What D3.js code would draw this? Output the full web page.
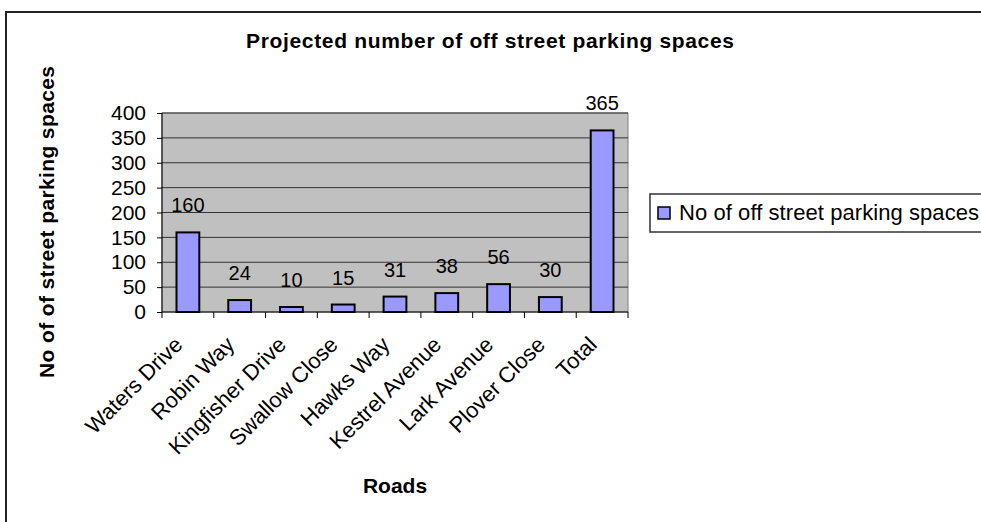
<!DOCTYPE html>
<html>
<head>
	<meta charset="utf-8">
	<script src="https://cdnjs.cloudflare.com/ajax/libs/d3/7.8.5/d3.min.js"></script>
	<style>
		body { margin: 0; background: #fff; font-family: "Liberation Sans", Arial, sans-serif; }
		.y-axis path, .x-axis path { display: none; }
		.y-axis line, .x-axis line { stroke: #000; }
		.y-axis text { font-size: 21px; fill: #000; }
		.x-axis text { font-size: 22px; fill: #000; }
	</style>
</head>
<body>
	<svg width="981" height="522"></svg>
	<script>
	// chart data
	var roads = ["Waters Drive", "Robin Way", "Kingfisher Drive", "Swallow Close", "Hawks Way",
		"Kestrel Avenue", "Lark Avenue", "Plover Close", "Total"];
	var spaces = [160, 24, 10, 15, 31, 38, 56, 30, 365];
	var yTicks = [0, 50, 100, 150, 200, 250, 300, 350, 400];
	var seriesName = "No of off street parking spaces";

	var data = roads.map(function(r, i) { return {road: r, value: spaces[i]}; });

	var svg = d3.select("svg"),
		margin = {top: 113, right: 353, bottom: 210, left: 162},
		width = svg.attr("width") - margin.left - margin.right,
		height = svg.attr("height") - margin.top - margin.bottom;

	// outer chart border (runs off the right and bottom edge)
	svg.append("rect")
		.attr("x", 6).attr("y", 12)
		.attr("width", 1000).attr("height", 530)
		.style("fill", "none").style("stroke", "#222").style("stroke-width", 2);

	var g = svg.append("g").attr("transform", "translate(" + margin.left + "," + margin.top + ")");

	var x = d3.scaleBand().domain(roads).range([0, width]).padding(0),
		y = d3.scaleLinear().domain([0, 400]).range([height, 0]);

	// plot area
	g.append("rect")
		.attr("width", width).attr("height", height)
		.style("fill", "#c0c0c0").style("stroke", "#808080");

	// gridlines
	g.selectAll(".grid")
		.data(yTicks.slice(1))
		.enter().append("line")
		.attr("x1", 0).attr("x2", width)
		.attr("y1", function(d) { return y(d); })
		.attr("y2", function(d) { return y(d); })
		.style("stroke", "#333").style("stroke-width", 1);

	// y axis
	g.append("g")
		.attr("class", "y-axis")
		.call(d3.axisLeft(y).tickValues(yTicks).tickSize(5).tickPadding(11));
	g.append("line")
		.attr("y1", 0).attr("y2", height)
		.style("stroke", "#000");

	// x axis with ticks between categories
	var xa = g.append("g")
		.attr("class", "x-axis")
		.attr("transform", "translate(0," + height + ")");
	xa.append("line").attr("x1", 0).attr("x2", width).style("stroke", "#000");
	xa.selectAll(".tk")
		.data(d3.range(roads.length + 1))
		.enter().append("line")
		.attr("x1", function(i) { return i * x.step(); })
		.attr("x2", function(i) { return i * x.step(); })
		.attr("y1", 0).attr("y2", 6);
	xa.selectAll(".lbl")
		.data(roads)
		.enter().append("text")
		.attr("text-anchor", "end")
		.attr("transform", function(d) {
			return "translate(" + (x(d) + x.bandwidth() / 2 - 4) + ",34) rotate(-45)";
		})
		.text(function(d) { return d; });

	// bars
	var bw = x.bandwidth() * 0.44;
	g.selectAll(".bar")
		.data(data)
		.enter().append("rect")
		.attr("class", "bar")
		.attr("x", function(d) { return x(d.road) + (x.bandwidth() - bw) / 2; })
		.attr("y", function(d) { return y(d.value); })
		.attr("width", bw)
		.attr("height", function(d) { return height - y(d.value); })
		.style("fill", "#9999ff").style("stroke", "#000").style("stroke-width", 2);

	// value labels
	g.selectAll(".val")
		.data(data)
		.enter().append("text")
		.attr("text-anchor", "middle")
		.attr("x", function(d) { return x(d.road) + x.bandwidth() / 2; })
		.attr("y", function(d) { return y(d.value) - 20; })
		.style("font-size", "20px")
		.text(function(d) { return d.value; });

	// titles
	svg.append("text")
		.attr("x", 490).attr("y", 48)
		.attr("text-anchor", "middle")
		.attr("textLength", 488).attr("lengthAdjust", "spacing")
		.style("font-size", "21px").style("font-weight", "bold")
		.text("Projected number of off street parking spaces");

	svg.append("text")
		.attr("transform", "translate(54,222) rotate(-90)")
		.attr("text-anchor", "middle")
		.attr("textLength", 312).attr("lengthAdjust", "spacing")
		.style("font-size", "21px").style("font-weight", "bold")
		.text("No of of street parking spaces");

	svg.append("text")
		.attr("x", margin.left + width / 2).attr("y", 493)
		.attr("text-anchor", "middle")
		.style("font-size", "21px").style("font-weight", "bold")
		.text("Roads");

	// legend
	var lg = svg.append("g").attr("transform", "translate(650,194)");
	lg.append("rect")
		.attr("width", 340).attr("height", 38)
		.style("fill", "#fff").style("stroke", "#333").style("stroke-width", 1.5);
	lg.append("rect")
		.attr("x", 8).attr("y", 13).attr("width", 12).attr("height", 12)
		.style("fill", "#9999ff").style("stroke", "#000").style("stroke-width", 1.5);
	lg.append("text")
		.attr("x", 29).attr("y", 26)
		.attr("textLength", 300).attr("lengthAdjust", "spacing")
		.style("font-size", "22px")
		.text(seriesName);
	</script>
</body>
</html>
